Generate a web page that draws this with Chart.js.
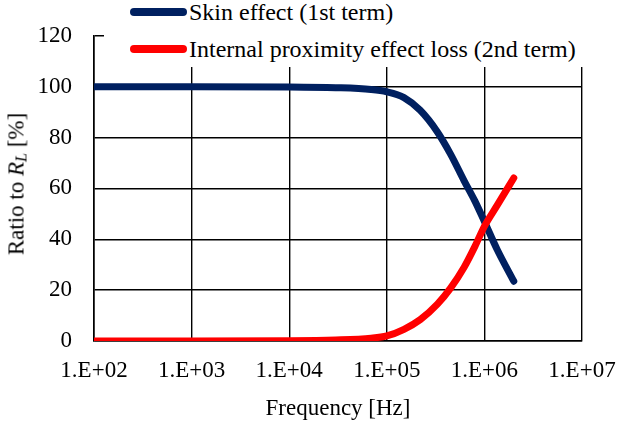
<!DOCTYPE html>
<html lang="en">
<head>
  <meta charset="UTF-8" />
  <title>Ratio to RL</title>
  <script src="https://cdn.jsdelivr.net/npm/chart.js"></script>
  <style>
    body {
      margin: 0;
      background: #fff;
      font-family: "Liberation Serif", "Times New Roman", serif;
    }
    .wrap {
      position: relative;
      width: 618px;
      height: 425px;
    }
    .legend {
      position: absolute;
      left: 104px;
      top: 0;
      width: 514px;
      height: 67px;
      background: #fff;
      font-family: "Liberation Serif", serif;
      font-size: 24px;
      color: #000;
    }
    .legend .item {
      position: absolute;
      left: 26px;
      height: 30px;
      line-height: 30px;
      white-space: nowrap;
    }
    .legend .swatch {
      display: inline-block;
      width: 57px;
      height: 8px;
      border-radius: 4px;
      vertical-align: middle;
      margin-right: 2px;
      position: relative;
      top: -2px;
    }
    .ytitle {
      position: absolute;
      left: 17px;
      top: 184px;
      transform: translate(-50%, -50%) rotate(-90deg);
      font-size: 23px;
      white-space: nowrap;
    }
    .ytitle sub {
      font-size: 16px;
      vertical-align: -3px;
    }
  </style>
</head>
<body>
  <div class="wrap">
    <canvas id="chart" width="618" height="425"></canvas>
    <div class="ytitle">Ratio to <i>R</i><sub><i>L</i></sub> [%]</div>
    <div class="legend" id="legend"></div>
  </div>

  <script>
    // values
    const freqs = [100, 1000, 10000, 30000, 69000, 100000, 150000, 220000, 330000, 450000, 620000, 800000, 1000000, 1350000, 2000000];
    const skinEffect = [100, 100, 99.9, 99.6, 98.9, 98.0, 95.7, 90.7, 82.2, 73.5, 63.0, 55.0, 47.0, 36.0, 23.5];
    const proximityLoss = [0, 0, 0.1, 0.4, 1.1, 2.0, 4.6, 8.4, 14.5, 20.8, 29.0, 37.2, 45.1, 53.3, 64.1];
    const seriesNames = ['Skin effect (1st term)', 'Internal proximity effect loss (2nd term)'];
    const seriesColors = ['#002060', '#ff0000'];
    const xTicks = [1e2, 1e3, 1e4, 1e5, 1e6, 1e7];
    const xTickLabels = ['1.E+02', '1.E+03', '1.E+04', '1.E+05', '1.E+06', '1.E+07'];

    const font = "'Liberation Serif', 'Times New Roman', serif";

    // html legend sitting over the top of the plot
    const legend = document.getElementById('legend');
    seriesNames.forEach((name, i) => {
      const row = document.createElement('div');
      row.className = 'item';
      row.style.top = (i === 0 ? -3 : 34) + 'px';
      row.innerHTML = '<span class="swatch" style="background:' + seriesColors[i] + '"></span>' + name;
      legend.appendChild(row);
    });

    const pts = vals => freqs.map((f, i) => ({ x: f, y: vals[i] }));

    new Chart(document.getElementById('chart'), {
      type: 'line',
      data: {
        datasets: [
          {
            label: seriesNames[0],
            data: pts(skinEffect),
            borderColor: seriesColors[0],
            borderWidth: 7,
            pointRadius: 0,
            borderCapStyle: 'round',
            cubicInterpolationMode: 'monotone',
            order: 1
          },
          {
            label: seriesNames[1],
            data: pts(proximityLoss),
            borderColor: seriesColors[1],
            borderWidth: 7,
            pointRadius: 0,
            borderCapStyle: 'round',
            cubicInterpolationMode: 'monotone',
            order: 0
          }
        ]
      },
      options: {
        responsive: false,
        animation: false,
        layout: { padding: { left: 0, right: 36, top: 26, bottom: 0 } },
        plugins: {
          legend: { display: false },
          tooltip: { enabled: false }
        },
        scales: {
          x: {
            type: 'logarithmic',
            min: 100,
            max: 1e7,
            afterBuildTicks: s => { s.ticks = xTicks.map(v => ({ value: v })); },
            afterFit: s => { s.height = 84; s.paddingLeft = 0; s.paddingRight = 0; },
            grid: { color: '#000', lineWidth: 1.4, drawTicks: false },
            border: { color: '#000', width: 1.6 },
            ticks: {
              padding: 16,
              maxRotation: 0,
              autoSkip: false,
              color: '#000',
              font: { family: font, size: 23 },
              callback: v => xTickLabels[xTicks.indexOf(v)]
            },
            title: {
              display: true,
              text: 'Frequency [Hz]',
              color: '#000',
              font: { family: font, size: 23 },
              padding: { top: 0, bottom: 2 }
            }
          },
          y: {
            min: 0,
            max: 120,
            afterFit: s => { s.width = 94; },
            grid: { color: '#000', lineWidth: 1.4, drawTicks: false },
            border: { color: '#000', width: 1.6 },
            ticks: {
              stepSize: 20,
              padding: 22,
              color: '#000',
              font: { family: font, size: 23 }
            }
          }
        }
      }
    });
  </script>
</body>
</html>
